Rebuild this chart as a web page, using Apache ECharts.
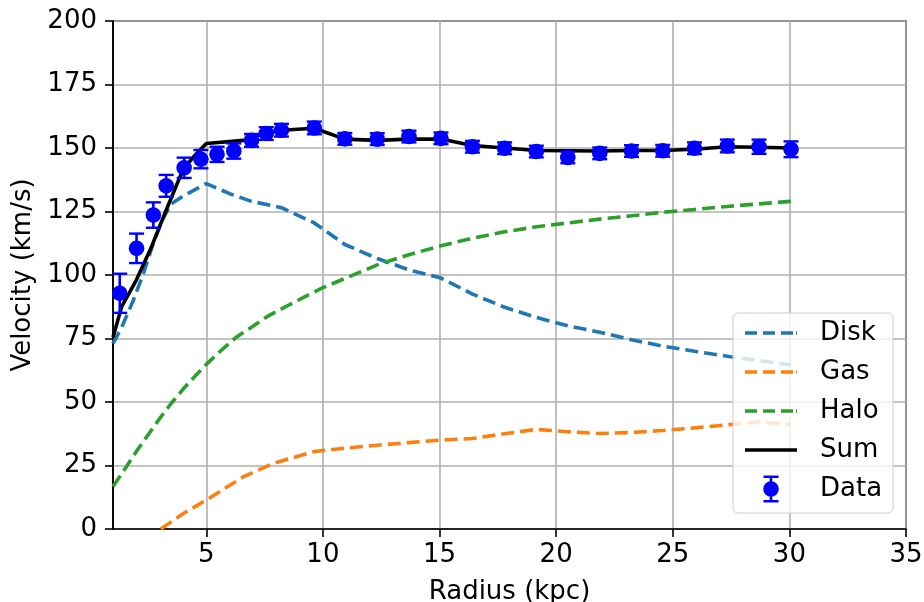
<!DOCTYPE html>
<html>
<head>
<meta charset="utf-8">
<title>Rotation curve</title>
<script src="https://cdn.jsdelivr.net/npm/echarts@6/dist/echarts.min.js"></script>
<style>
  html, body { margin: 0; padding: 0; background: #fff; }
  #chart { width: 924px; height: 602px; }
</style>
</head>
<body>
<div id="chart"></div>
<script>
// observed rotation curve
const dataR = [1.29, 2.01, 2.73, 3.28, 4.05, 4.77, 5.46, 6.18, 6.94, 7.57, 8.22, 9.63, 10.94, 12.33, 13.69, 15.06, 16.41, 17.79, 19.15, 20.5, 21.87, 23.23, 24.57, 25.93, 27.34, 28.7, 30.07]
const dataV = [92.8, 110.5, 123.6, 135.1, 142.2, 145.6, 147.5, 148.8, 153, 155.7, 157, 157.9, 153.6, 153.5, 154.5, 153.8, 150.5, 149.9, 148.6, 146.3, 147.9, 148.8, 148.9, 149.9, 150.8, 150.5, 149.5]
const dataErr = [7.7, 5.8, 5, 4.3, 4, 3.6, 3, 3, 2.5, 2.5, 2.5, 2.5, 2.3, 2.3, 2.3, 2.3, 2.3, 2.3, 2.3, 2.3, 2.3, 2.3, 2.3, 2.3, 2.5, 2.8, 3.1]

// model components
const diskR = [1.0, 1.4, 1.87, 2.3, 2.73, 3.1, 3.5, 4.0, 4.5, 5.0, 6.0, 6.94, 8.22, 9.63, 10.94, 12.33, 13.69, 15.06, 16.41, 17.79, 19.15, 20.5, 21.87, 23.23, 24.57, 25.93, 27.34, 28.7, 30.07]
const diskV = [73, 80, 90, 100.5, 112.5, 121.5, 128, 131, 133.5, 136, 132, 129, 126.5, 120.5, 112, 106.5, 102, 98.8, 92.5, 87.3, 83.3, 80, 77.5, 74.5, 72, 70, 68, 66.3, 64.6]

const gasR = [3.05, 4.0, 5.0, 6.6, 7.9, 9.63, 10.94, 12.33, 13.69, 15.06, 16.41, 17.79, 19.15, 20.5, 21.87, 23.23, 24.57, 25.93, 27.34, 28.7, 30.07]
const gasV = [0, 6, 11.4, 20.6, 25.9, 30.5, 31.8, 33, 34, 35, 35.6, 37.5, 39.2, 38.3, 37.6, 38, 38.8, 39.8, 41, 42.2, 41]

const haloR = [1.0, 1.5, 2.0, 2.5, 3.0, 3.5, 4.0, 4.5, 5.0, 5.6, 6.3, 7.0, 7.6, 8.5, 9.3, 10.0, 10.94, 12.33, 13.69, 15.06, 16.41, 17.79, 19.15, 20.5, 21.87, 23.23, 24.57, 25.93, 27.34, 28.7, 30.07]
const haloV = [16.7, 23.5, 30.5, 37, 43.5, 49.5, 55, 60, 64.8, 70, 75.6, 79.8, 83.6, 88, 91.8, 95, 98.6, 104, 108, 111.5, 114.5, 117, 119, 120.5, 122, 123.3, 124.7, 125.8, 127, 128, 129]

const sumR = [1.0, 1.37, 2.0, 2.6, 3.3, 4.0, 4.5, 5.0, 6.6, 7.6, 8.22, 9.63, 10.94, 12.33, 13.69, 15.06, 16.41, 17.79, 19.15, 20.5, 21.87, 23.23, 24.57, 25.93, 27.34, 28.7, 30.07]
const sumV = [75.5, 87.5, 98, 110, 126, 141.5, 147, 151.8, 153, 156.2, 157, 157.8, 153.5, 153, 153.5, 153.5, 151, 150, 149, 148.9, 148.8, 149, 149, 149.5, 150.5, 150.3, 150]

const xTicks = [5, 10, 15, 20, 25, 30, 35]

const font = 'DejaVu Sans'
const fontSize = 26
const dash = [13, 6]

const zip = (xs, ys) => xs.map((x, i) => [x, ys[i]])

// legend handles (a far point keeps every handle 70px wide)
const dashIcon = 'path://M0,0h12v3.6h-12z M18,0h12v3.6h-12z M36,0h12v3.6h-12z M51,0h1v3.6h-1z M70,1.8h0.01v0.01h-0.01z'
const solidIcon = 'path://M0,0h52v3.6h-52z M70,1.8h0.01v0.01h-0.01z'
const dataIcon = 'path://M18.5,0h15v2.4h-15z M24.7,2.4h2.6v22.2h-2.6z M18.5,24.6h15v2.4h-15z ' +
  'M18.2,13.5a7.8,7.8 0 1,1 15.6,0a7.8,7.8 0 1,1 -15.6,0z M0,13.5h0.01v0.01h-0.01z M70,13.5h0.01v0.01h-0.01z'

function lineSeries(name, xs, ys, color, type, z) {
  return {
    name,
    type: 'line',
    data: zip(xs, ys),
    symbol: 'none',
    showSymbol: false,
    silent: true,
    z,
    lineStyle: { color, width: 3.6, type },
    itemStyle: { color }
  }
}

const chart = echarts.init(document.getElementById('chart'))

chart.setOption({
  animation: false,
  backgroundColor: '#fff',
  grid: {
    left: 113,
    right: 18,
    top: 21,
    bottom: 73,
    outerBoundsMode: 'none',
    containLabel: false,
    show: true,
    borderColor: '#000',
    borderWidth: 1.6,
    backgroundColor: 'transparent'
  },
  legend: {
    orient: 'vertical',
    left: 733,
    top: 313,
    padding: [6, 11, 10, 12],
    itemWidth: 70,
    itemHeight: 28,
    itemGap: 11,
    selectedMode: false,
    backgroundColor: 'rgba(255,255,255,0.8)',
    borderColor: '#cccccc',
    borderWidth: 1,
    borderRadius: 5,
    textStyle: { fontSize, color: '#000', fontFamily: font, lineHeight: 28 },
    data: [
      { name: 'Disk', icon: dashIcon, symbolKeepAspect: true, itemStyle: { color: '#1f77b4', borderWidth: 0 } },
      { name: 'Gas', icon: dashIcon, symbolKeepAspect: true, itemStyle: { color: '#ff7f0e', borderWidth: 0 } },
      { name: 'Halo', icon: dashIcon, symbolKeepAspect: true, itemStyle: { color: '#2ca02c', borderWidth: 0 } },
      { name: 'Sum', icon: solidIcon, symbolKeepAspect: true, itemStyle: { color: '#000000', borderWidth: 0 } },
      { name: 'Data', icon: dataIcon, symbolKeepAspect: true, itemStyle: { color: '#0000ff', borderWidth: 0 } }
    ]
  },
  xAxis: {
    type: 'value',
    min: 1,
    max: 35,
    name: 'Radius (kpc)',
    nameLocation: 'middle',
    nameGap: 50,
    nameTextStyle: { fontSize, color: '#000', fontFamily: font },
    axisLine: { show: true, lineStyle: { color: '#000', width: 1.6 } },
    axisTick: { show: true, customValues: xTicks, length: 8, lineStyle: { color: '#000', width: 1.6 } },
    axisLabel: { customValues: xTicks, fontSize, color: '#000', margin: 13, fontFamily: font },
    splitLine: { show: true, lineStyle: { color: '#b0b0b0', width: 1.6 } }
  },
  yAxis: {
    type: 'value',
    min: 0,
    max: 200,
    interval: 25,
    name: 'Velocity (km/s)',
    nameLocation: 'middle',
    nameGap: 74,
    nameTextStyle: { fontSize, color: '#000', fontFamily: font },
    axisLine: { show: true, lineStyle: { color: '#000', width: 1.6 } },
    axisTick: { show: true, length: 8, lineStyle: { color: '#000', width: 1.6 } },
    axisLabel: { fontSize, color: '#000', margin: 16, fontFamily: font },
    splitLine: { show: true, lineStyle: { color: '#b0b0b0', width: 1.6 } }
  },
  series: [
    lineSeries('Disk', diskR, diskV, '#1f77b4', dash, 2),
    lineSeries('Gas', gasR, gasV, '#ff7f0e', dash, 3),
    lineSeries('Halo', haloR, haloV, '#2ca02c', dash, 4),
    lineSeries('Sum', sumR, sumV, '#000000', 'solid', 5),
    {
      name: 'Data',
      type: 'custom',
      silent: true,
      z: 6,
      itemStyle: { color: '#0000ff' },
      encode: { x: 0, y: 1 },
      data: dataR.map((r, i) => [r, dataV[i], dataErr[i]]),
      renderItem(params, api) {
        const x = api.value(0)
        const y = api.value(1)
        const e = api.value(2)
        const c = api.coord([x, y])
        const hi = api.coord([x, y + e])
        const lo = api.coord([x, y - e])
        const cap = 7.5
        return {
          type: 'group',
          children: [
            { type: 'line', shape: { x1: c[0], y1: hi[1], x2: c[0], y2: lo[1] }, style: { stroke: '#0000ff', lineWidth: 2.6 } },
            { type: 'line', shape: { x1: c[0] - cap, y1: hi[1], x2: c[0] + cap, y2: hi[1] }, style: { stroke: '#0000ff', lineWidth: 2.4 } },
            { type: 'line', shape: { x1: c[0] - cap, y1: lo[1], x2: c[0] + cap, y2: lo[1] }, style: { stroke: '#0000ff', lineWidth: 2.4 } },
            { type: 'circle', shape: { cx: c[0], cy: c[1], r: 7.8 }, style: { fill: '#0000ff' } }
          ]
        }
      }
    }
  ]
})
</script>
</body>
</html>
